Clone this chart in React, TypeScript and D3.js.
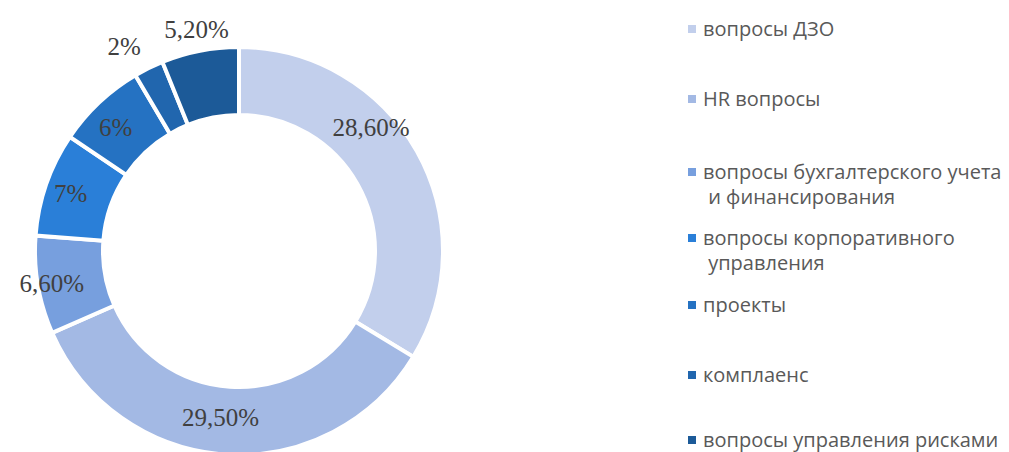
import React from "react";
import * as d3 from "d3";

const categories = [
  "вопросы ДЗО",
  "HR вопросы",
  "вопросы бухгалтерского учета и финансирования",
  "вопросы корпоративного управления",
  "проекты",
  "комплаенс",
  "вопросы управления рисками",
];
const values = [28.6, 29.5, 6.6, 7, 6, 2, 5.2];
const valueLabels = ["28,60%", "29,50%", "6,60%", "7%", "6%", "2%", "5,20%"];
const colors = ["#c2cfec", "#a3b9e4", "#779fde", "#2a7fd8", "#2572c2", "#2166ae", "#1c5a98"];
const legendLines = [
  ["вопросы ДЗО"],
  ["HR вопросы"],
  ["вопросы бухгалтерского учета", " и финансирования"],
  ["вопросы корпоративного", " управления"],
  ["проекты"],
  ["комплаенс"],
  ["вопросы управления рисками"],
];

// layout
const W = 1009, H = 452;
const CX = 239, CY = 251, RO = 204, RI = 136;
// label placement: fraction along the slice and radius
const labelFrac = [0.386, 0.52, 0.5, 0.49, 0.44, 0.15, 0.51];
const labelR = [181, 167, 190, 178, 175, 235, 226];
const legendBaselines = [36, 106, 179, 245, 312, 382, 447];

export default function App() {
  const pie = d3.pie<number>().sort(null).value((d) => d);
  const arcs = pie(values);
  const arc = d3.arc<d3.PieArcDatum<number>>().innerRadius(RI).outerRadius(RO);
  return (
    <svg width={W} height={H} style={{ position: "absolute", left: 0, top: 0, background: "#fff" }}>
      <g transform={`translate(${CX},${CY})`}>
        {arcs.map((a, i) => (
          <path key={i} d={arc(a) || ""} fill={colors[i]} stroke="#fff" strokeWidth={4} strokeLinejoin="miter" />
        ))}
        {arcs.map((a, i) => {
          const ang = a.startAngle + (a.endAngle - a.startAngle) * labelFrac[i];
          const x = Math.sin(ang) * labelR[i];
          const y = -Math.cos(ang) * labelR[i];
          return (
            <text key={i} x={x} y={y} dy="0.35em" textAnchor="middle"
              fontFamily="'Liberation Serif', serif" fontSize={25} fill="#404040">
              {valueLabels[i]}
            </text>
          );
        })}
      </g>
      <g>
        {legendLines.map((lines, i) => (
          <g key={i}>
            <rect x={688} y={legendBaselines[i] - 11} width={8} height={8} fill={colors[i]} />
            {lines.map((l, j) => (
              <text key={j} x={703} y={legendBaselines[i] + j * 25} fontFamily="'Open Sans', sans-serif"
                fontSize={20} fill="#595959" style={{ whiteSpace: "pre" }}>
                {l}
              </text>
            ))}
          </g>
        ))}
      </g>
    </svg>
  );
}
